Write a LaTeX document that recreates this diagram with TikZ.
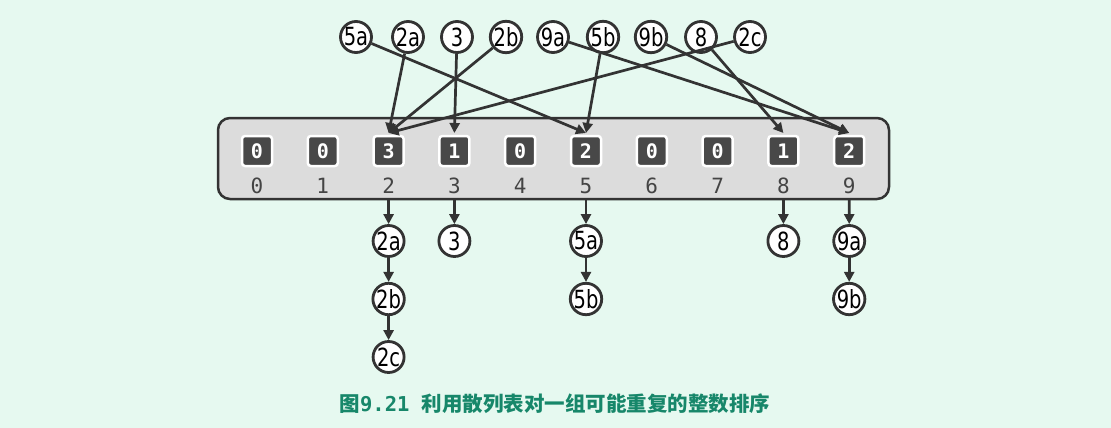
\documentclass[tikz,border=0pt]{standalone}
\usepackage{fontspec}
\setmainfont{DejaVu Sans}
\setmonofont{DejaVu Sans Mono}
\newfontfamily\cjk{Noto Sans CJK SC}
\usetikzlibrary{arrows.meta}
\definecolor{bg}{HTML}{E6F9F0}
\definecolor{ink}{HTML}{333333}
\definecolor{boxfill}{HTML}{DCDCDC}
\definecolor{cellfill}{HTML}{484848}
\definecolor{idx}{HTML}{444444}
\definecolor{cap}{HTML}{17876A}
\tikzset{
  ball/.style={circle,draw=ink,fill=white,line width=2.8pt,minimum size=31pt,inner sep=0pt,font=\fontsize{25}{25}\selectfont},
  cellbox/.style={rectangle,rounded corners=3pt,fill=cellfill,draw=white,line width=2.5pt,minimum size=30pt,inner sep=0pt,text=white,font=\ttfamily\bfseries\fontsize{20}{20}\selectfont},
  idxlab/.style={text=idx,font=\ttfamily\fontsize{21}{21}\selectfont,inner sep=0pt},
  link/.style={draw=ink,line width=2.7pt,-{Triangle[length=10pt,width=10pt]}},
}
\newcommand{\bl}[1]{\scalebox{0.78}[1]{#1}}
\begin{document}
\begin{tikzpicture}[x=1pt,y=-1pt]
\fill[bg] (0,0) rectangle (1111,428);
\useasboundingbox (0,0) rectangle (1111,428);
% table
\node[draw=ink,fill=boxfill,line width=2.5pt,rounded corners=12pt,minimum width=671pt,minimum height=81pt,inner sep=0pt] (table) at (553.5,158.5) {};
\foreach \i/\v in {0/0,1/0,2/3,3/1,4/0,5/2,6/0,7/0,8/1,9/2}{
  \pgfmathsetmacro{\cx}{257+65.8*\i}
  \node[cellbox] (cell\i) at (\cx,151) {\v};
  \node[idxlab] (idx\i) at (\cx,186) {\i};
  \coordinate (in\i) at (\cx,133);
  \coordinate (out\i) at (\cx,199);
}
% top balls
\node[ball] (t5a) at (356,37) {\bl{5a}};
\node[ball] (t2a) at (408,37) {\bl{2a}};
\node[ball] (t3)  at (457,37) {\bl{3}};
\node[ball] (t2b) at (506,37) {\bl{2b}};
\node[ball] (t9a) at (553,37) {\bl{9a}};
\node[ball] (t5b) at (603,37) {\bl{5b}};
\node[ball] (t9b) at (651,37) {\bl{9b}};
\node[ball] (t8)  at (701,37) {\bl{8}};
\node[ball] (t2c) at (750,37) {\bl{2c}};
\draw[link] (t5a) -- (in5);
\draw[link] (t2a) -- (in2);
\draw[link] (t3) -- (in3);
\draw[link] (t2b) -- (in2);
\draw[link] (t9a) -- (in9);
\draw[link] (t5b) -- (in5);
\draw[link] (t9b) -- (in9);
\draw[link] (t8) -- (in8);
\draw[link] (t2c) -- (in2);
% bottom chains
\node[ball] (b2a) at (388.6,241) {\bl{2a}};
\node[ball] (b2b) at (388.6,299) {\bl{2b}};
\node[ball] (b2c) at (388.6,357) {\bl{2c}};
\node[ball] (b3)  at (454.4,241) {\bl{3}};
\node[ball] (b5a) at (586,241) {\bl{5a}};
\node[ball] (b5b) at (586,299) {\bl{5b}};
\node[ball] (b8)  at (783.4,241) {\bl{8}};
\node[ball] (b9a) at (849.2,241) {\bl{9a}};
\node[ball] (b9b) at (849.2,299) {\bl{9b}};
\draw[link] (out2) -- (b2a);
\draw[link] (b2a) -- (b2b);
\draw[link] (b2b) -- (b2c);
\draw[link] (out3) -- (b3);
\draw[link] (out5) -- (b5a);
\draw[link] (b5a) -- (b5b);
\draw[link] (out8) -- (b8);
\draw[link] (out9) -- (b9a);
\draw[link] (b9a) -- (b9b);
% caption
\node[text=cap,inner sep=0pt] (caption) at (555,404) {\cjk\bfseries\fontsize{20.5}{20.5}\selectfont 图{\ttfamily\bfseries 9.21\ }利用散列表对一组可能重复的整数排序};
\end{tikzpicture}
\end{document}
